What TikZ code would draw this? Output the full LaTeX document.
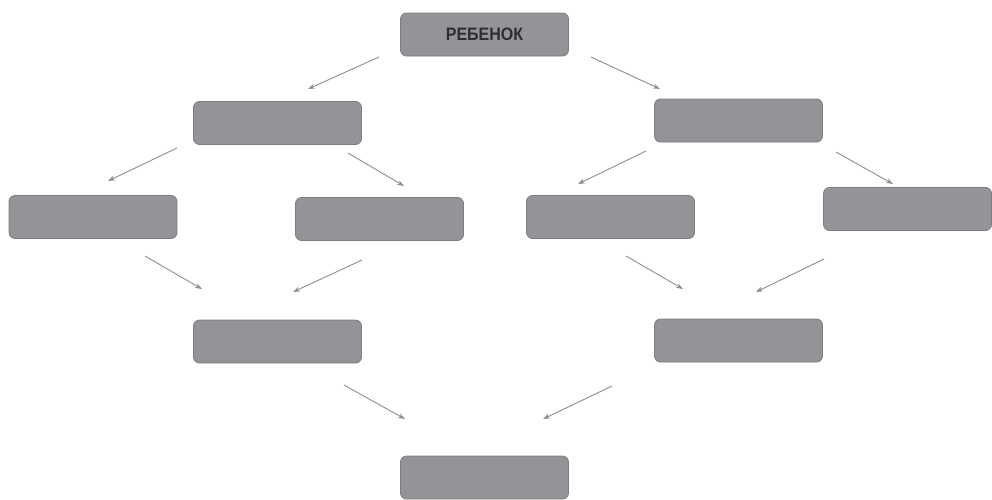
\documentclass[tikz,border=0pt]{standalone}
\usepackage{fontspec}
\setmainfont{Liberation Sans}
\usetikzlibrary{arrows.meta}
\definecolor{boxfill}{HTML}{939498}
\definecolor{boxline}{HTML}{7C7D80}
\definecolor{arrowcol}{HTML}{8E8E90}
\definecolor{txtcol}{HTML}{2E2E30}
\begin{document}
\begin{tikzpicture}[x=1pt,y=-1pt,
  box/.style={draw=boxline,fill=boxfill,line width=0.8pt,rounded corners=6pt,minimum width=168pt,minimum height=43pt,inner sep=0pt,text=txtcol,font=\fontsize{18}{19}\selectfont\bfseries},
  conn/.style={draw=arrowcol,line width=0.9pt,-{Stealth[length=7pt,width=5pt]}}]
\useasboundingbox (0,0) rectangle (992,499);
\node[box] (top) at (484.5,34.5) {\scalebox{0.89}[1]{РЕБЕНОК}};
\node[box] (l1) at (277.5,123) {};
\node[box] (r1) at (738.5,120.5) {};
\node[box] (ll) at (93,217) {};
\node[box] (lr) at (379.5,219) {};
\node[box] (rl) at (610.5,217) {};
\node[box] (rr) at (907.5,209) {};
\node[box] (ml) at (277.5,341.5) {};
\node[box] (mr) at (738.5,340.5) {};
\node[box] (bot) at (484.5,477.5) {};
% arrow end points
\coordinate (a1s) at (379,57);  \coordinate (a1e) at (308,89);
\coordinate (a2s) at (591,57);  \coordinate (a2e) at (660,89);
\coordinate (a3s) at (177,148); \coordinate (a3e) at (108,181);
\coordinate (a4s) at (348,153); \coordinate (a4e) at (404,186);
\coordinate (a5s) at (646,151); \coordinate (a5e) at (578,184);
\coordinate (a6s) at (836,152); \coordinate (a6e) at (893,184);
\coordinate (a7s) at (145,256); \coordinate (a7e) at (202,289);
\coordinate (a8s) at (362,260); \coordinate (a8e) at (293,292);
\coordinate (a9s) at (626,256); \coordinate (a9e) at (683,289);
\coordinate (a10s) at (824,259); \coordinate (a10e) at (756,292);
\coordinate (a11s) at (344,385); \coordinate (a11e) at (405,419);
\coordinate (a12s) at (612,386); \coordinate (a12e) at (543,419);
\foreach \i in {1,...,12} {\draw[conn] (a\i s) -- (a\i e);}
\end{tikzpicture}
\end{document}
